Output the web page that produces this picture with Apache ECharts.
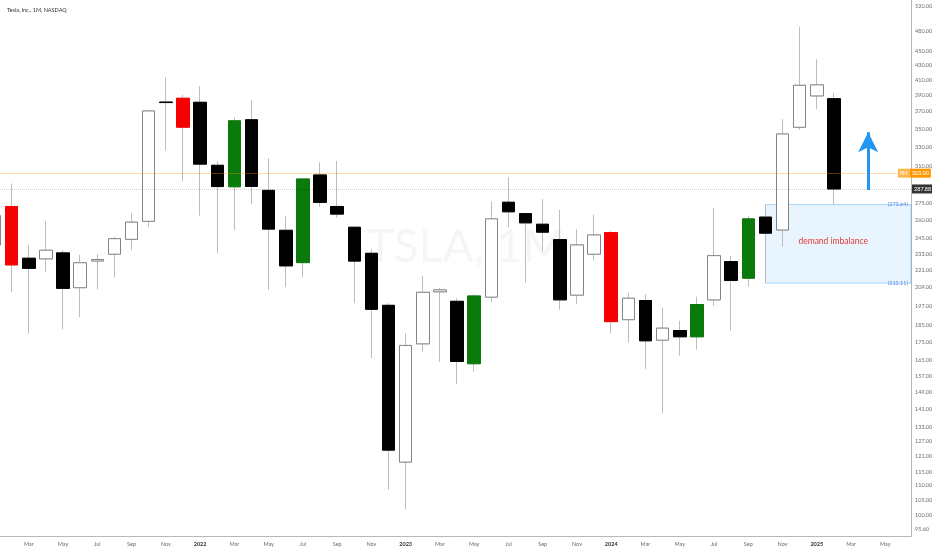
<!DOCTYPE html>
<html>
<head>
<meta charset="utf-8">
<title>TSLA 1M</title>
<script src="https://cdn.jsdelivr.net/npm/echarts@6/dist/echarts.min.js"></script>
<style>
  html, body { margin: 0; padding: 0; background: #fff; }
  #chart { width: 932px; height: 550px; }
</style>
</head>
<body>
<div id="chart"></div>
<script>
// monthly candles, Jan 2021 .. Jun 2025 (last four months are empty space)
const months = [
  '2021-01','2021-02','2021-03','2021-04','2021-05','2021-06','2021-07','2021-08','2021-09','2021-10','2021-11','2021-12',
  '2022-01','2022-02','2022-03','2022-04','2022-05','2022-06','2022-07','2022-08','2022-09','2022-10','2022-11','2022-12',
  '2023-01','2023-02','2023-03','2023-04','2023-05','2023-06','2023-07','2023-08','2023-09','2023-10','2023-11','2023-12',
  '2024-01','2024-02','2024-03','2024-04','2024-05','2024-06','2024-07','2024-08','2024-09','2024-10','2024-11','2024-12',
  '2025-01','2025-02','2025-03','2025-04','2025-05','2025-06'
]
const open = [
  240, 272, 230, 229.5, 234, 209, 227.9, 233, 244.5, 259.2, 381.7, 386.4,
  381.4, 310.9, 289.9, 360.4, 286.6, 251.8, 226.7, 301.3, 272, 254.3, 233.7, 197.4,
  118.7, 174.2, 206.2, 200, 163.3, 202.7, 275.8, 265.8, 256.8, 244.3, 204, 233,
  249.9, 188.4, 200.5, 176.3, 181.9, 178.2, 200.9, 227.5, 215.5, 262.8, 252, 351.7,
  389.3, 385.9
]
const high = [
  294, 293, 240, 259.5, 236, 232.5, 233, 246.5, 266, 371.5, 413.5, 390.6,
  402, 315, 363, 384, 318, 263.8, 298, 314, 315.3, 255, 237, 198.8,
  180.3, 217.2, 209, 202, 204.5, 276.3, 299, 266.5, 278.7, 269, 252.7, 265,
  251, 205.7, 204.6, 196, 187.7, 203, 270.5, 231.7, 263.8, 273.64, 361, 487.3,
  438.4, 393.5
]
const low = [
  236, 206, 180, 220, 182.5, 190, 207.8, 216, 236, 254.8, 326, 295,
  264, 233.7, 252, 274, 207.5, 209.4, 216.3, 271.5, 262.4, 198.8, 166.3, 108.5,
  101.9, 169.9, 164.2, 152.9, 159.2, 199.2, 254.3, 212.5, 235, 194.5, 198.3, 228.2,
  180.3, 175, 160.6, 139.1, 167.7, 171, 197, 182, 209.8, 212.11, 238.8, 348.7,
  372.9, 273.4
]
const close = [
  264, 225, 222.5, 236, 208.5, 226.6, 229, 245, 258.5, 370.8, 381, 351.7,
  312, 290.1, 359.2, 290.3, 252.7, 224.3, 297.4, 275.6, 265.3, 227.8, 194.8, 123.4,
  173.3, 205.9, 207.5, 164.5, 203.5, 261.3, 267.3, 257.9, 250.2, 200.9, 240.1, 248,
  187.2, 202, 175.9, 183.3, 178.2, 197.9, 231.9, 213.9, 261.3, 249.4, 344.1, 403,
  403.5, 287.88
]
// candles painted by hand on the original
const redMonths = ['2021-02', '2021-12', '2024-01']
const greenMonths = ['2022-03', '2022-07', '2023-05', '2024-06', '2024-09']

// price scale labels (log scale)
const yTicks = [520, 480, 450, 430, 410, 390, 370, 350, 330, 310, 275, 260, 245, 233, 221, 209,
  197, 185, 175, 165, 157, 149, 141, 133, 127, 121, 115, 110, 105, 100, 95.6]
const monthNames = ['Jan','Feb','Mar','Apr','May','Jun','Jul','Aug','Sep','Oct','Nov','Dec']

// annotations
const pmPrice = 303
const lastPrice = 287.88
const zoneStart = '2024-10'
const zoneTop = 273.64
const zoneBottom = 212.11
const zoneText = 'demand imbalance'
const arrowMonth = '2025-04'
const arrowFrom = 287
const arrowTo = 346

const RED = '#f70000'
const GREEN = '#0a7a0a'
const WICK = '#bdbdbd'
const TEXT = '#6a6d78'
const FONT = 'Lato, "Open Sans", sans-serif'

const wickData = open.map((o, i) => [o, close[i], low[i], high[i]])
const bodyData = open.map((o, i) => {
  const c = close[i]
  const item = { value: [o, c, Math.min(o, c), Math.max(o, c)] }
  const m = months[i]
  const paint = redMonths.includes(m) ? RED : (greenMonths.includes(m) ? GREEN : null)
  if (paint) {
    item.itemStyle = { color: paint, color0: paint, borderColor: paint, borderColor0: paint }
  }
  return item
})

// invisible lines, only the labels at the right edge are kept
const tickLines = yTicks.map(v => ({ yAxis: v }))

const priceLines = [
  {
    yAxis: pmPrice,
    lineStyle: { color: 'rgba(255,152,0,0.35)', type: 'solid', width: 1 },
    label: {
      distance: 0,
      offset: [-13, 0],
      formatter: '{p|PM}{v|' + pmPrice.toFixed(2) + '}',
      rich: {
        p: { backgroundColor: '#ffb74d', color: '#fff', fontSize: 5, padding: [2, 2], fontFamily: FONT },
        v: { backgroundColor: '#ff9800', color: '#fff', fontSize: 5.5, padding: [1.5, 2], fontFamily: FONT }
      }
    }
  },
  {
    yAxis: lastPrice,
    lineStyle: { color: 'rgba(0,0,0,0.18)', type: 'dotted', width: 1 },
    label: {
      distance: 1,
      color: '#fff',
      backgroundColor: '#333',
      padding: [1.5, 2],
      formatter: lastPrice.toFixed(2)
    }
  },
  [
    { coord: [arrowMonth, arrowFrom], symbol: 'none' },
    {
      coord: [arrowMonth, arrowTo], symbol: 'arrow', symbolSize: [15, 20],
      lineStyle: { color: '#2196f3', width: 3, type: 'solid' },
      label: { show: false }
    }
  ]
]

const chart = echarts.init(document.getElementById('chart'), null, { renderer: 'canvas' })

chart.setOption({
  animation: false,
  backgroundColor: '#fff',
  title: {
    text: 'Tesla, Inc., 1M, NASDAQ',
    left: 2,
    top: 2,
    textStyle: { fontSize: 5.5, fontWeight: 'normal', color: '#333', fontFamily: FONT }
  },
  graphic: [{
    type: 'text',
    left: 'center',
    top: 224,
    silent: true,
    style: { text: 'TSLA, 1M', fontSize: 46, fontFamily: FONT, fill: 'rgba(0,0,0,0.04)' }
  }],
  grid: { left: -14, right: 21, top: 0, bottom: 14, outerBoundsMode: 'none', containLabel: false },
  xAxis: {
    type: 'category',
    data: months,
    boundaryGap: true,
    axisLine: { show: true, lineStyle: { color: '#b8b8b8', width: 1 } },
    axisTick: { show: false },
    splitLine: { show: false },
    axisLabel: {
      margin: 5,
      fontSize: 5.5,
      color: TEXT,
      fontFamily: FONT,
      interval: (idx) => idx > 0 && idx % 2 === 0,
      formatter: (val) => {
        const [y, m] = val.split('-')
        return m === '01' ? '{y|' + y + '}' : monthNames[+m - 1]
      },
      rich: { y: { fontSize: 5.5, fontWeight: 'bold', color: '#333', fontFamily: FONT } }
    }
  },
  yAxis: {
    type: 'log',
    logBase: 10,
    position: 'right',
    min: 93.4,
    max: 531.4,
    axisLine: { show: true, lineStyle: { color: '#b8b8b8', width: 1 } },
    axisTick: { show: false },
    axisLabel: { show: false },
    splitLine: { show: false }
  },
  series: [
    {
      name: 'wicks',
      type: 'candlestick',
      barWidth: 13,
      data: wickData,
      itemStyle: {
        color: 'rgba(0,0,0,0)', color0: 'rgba(0,0,0,0)',
        borderColor: WICK, borderColor0: WICK, borderWidth: 1
      },
      z: 2
    },
    {
      name: 'TSLA',
      type: 'candlestick',
      barWidth: 13,
      data: bodyData,
      itemStyle: {
        color: '#fff', borderColor: '#858585',
        color0: '#000', borderColor0: '#000', borderWidth: 1
      },
      z: 3
    },
    {
      name: 'scale',
      type: 'line',
      data: [],
      clip: false,
      silent: true,
      z: 4,
      markLine: {
        silent: true,
        animation: false,
        symbol: 'none',
        lineStyle: { color: 'rgba(0,0,0,0)', type: 'solid', width: 1 },
        label: {
          position: 'end',
          distance: 4,
          color: TEXT,
          fontSize: 5.5,
          fontFamily: FONT,
          formatter: (p) => Number(p.value).toFixed(2)
        },
        data: tickLines.concat(priceLines)
      },
      markArea: {
        silent: true,
        itemStyle: { color: 'rgba(33,150,243,0.1)', borderColor: 'rgba(33,150,243,0.35)', borderWidth: 1 },
        label: { position: 'inside', color: '#e53935', fontSize: 8.5, fontFamily: FONT, offset: [-5, -3] },
        data: [[
          { name: zoneText, xAxis: zoneStart, yAxis: zoneTop },
          { yAxis: zoneBottom }
        ]]
      },
      markPoint: {
        silent: true,
        symbol: 'rect',
        symbolSize: 1,
        itemStyle: { color: 'rgba(0,0,0,0)' },
        label: {
          show: true,
          position: 'left',
          distance: 0,
          offset: [6, 0],
          color: '#5a8de0',
          fontSize: 5.5,
          fontFamily: FONT,
          formatter: (p) => '(' + Number(p.value).toFixed(2) + ')'
        },
        data: [
          { coord: [months[months.length - 1], zoneTop], value: zoneTop },
          { coord: [months[months.length - 1], zoneBottom], value: zoneBottom }
        ]
      }
    }
  ]
})

window.addEventListener('resize', () => chart.resize())
</script>
</body>
</html>
